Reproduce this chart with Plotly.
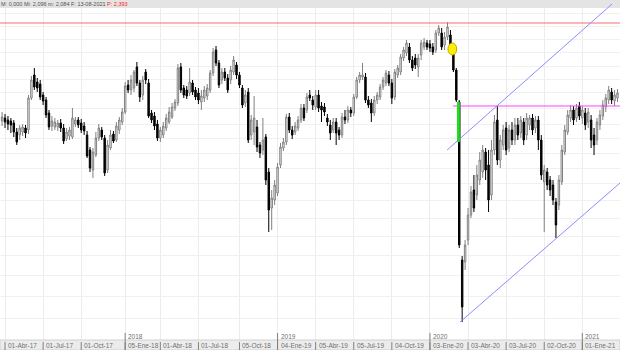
import pandas as pd
import plotly.graph_objects as go

# weekly candles (Friday dates)
dates = pd.date_range("2017-03-17", periods=211, freq="7D")

opens = [
2.79,2.82,2.80,2.79,2.77,2.68,2.65,2.68,2.72,2.70,
3.02,3.25,3.18,3.16,3.05,3.00,2.87,2.74,2.73,2.73,
2.77,2.72,2.61,2.64,2.63,2.76,2.80,2.77,2.74,2.65,
2.50,2.30,2.45,2.62,2.70,2.62,2.30,2.52,2.66,2.60,
2.70,2.78,2.88,3.15,3.10,3.12,3.33,3.17,3.05,3.28,
3.17,2.87,2.84,2.76,2.62,2.65,2.72,2.78,2.83,2.92,
2.97,3.33,3.12,3.10,3.07,3.17,3.10,3.07,2.98,3.02,
3.04,3.10,3.27,3.50,3.37,3.20,3.28,3.22,3.20,3.28,
3.35,3.25,3.12,2.97,3.08,2.65,2.68,2.73,2.55,2.50,
2.63,2.28,1.92,2.00,2.07,2.35,2.52,2.58,2.83,2.70,
2.68,2.72,2.80,2.92,2.90,3.05,3.00,2.93,3.05,2.94,
2.93,2.82,2.75,2.70,2.78,2.70,2.65,2.83,2.80,2.90,
2.87,3.03,3.20,3.23,3.23,3.00,2.97,2.87,3.00,3.03,
3.13,3.17,3.25,3.17,3.03,3.25,3.28,3.42,3.47,3.53,
3.40,3.42,3.33,3.45,3.53,3.57,3.56,3.53,3.50,3.67,
3.67,3.55,3.63,3.65,3.50,3.30,2.98,1.40,1.38,1.60,
1.85,2.10,2.05,2.20,2.28,2.48,2.35,2.05,2.50,2.80,
2.40,2.55,2.72,2.52,2.70,2.60,2.75,2.67,2.78,2.65,
2.75,2.82,2.72,2.80,2.60,2.18,2.28,2.20,2.15,1.98,
1.95,2.18,2.48,2.68,2.82,2.90,2.82,2.94,2.82,2.87,
2.78,2.80,2.65,2.60,2.75,2.84,2.93,3.00,3.08,2.99,
3.02]

highs = [
2.88,2.86,2.84,2.82,2.80,2.72,2.75,2.76,2.75,3.05,
3.24,3.32,3.22,3.20,3.08,3.03,2.90,2.84,2.82,2.80,
2.81,2.76,2.72,2.73,2.92,2.83,2.83,2.81,2.78,2.69,
2.53,2.52,2.68,2.76,2.73,2.65,2.60,2.70,2.69,2.78,
2.83,2.92,3.18,3.20,3.25,3.30,3.38,3.20,3.24,3.31,
3.21,2.90,2.88,2.80,2.73,2.78,2.86,2.93,2.97,3.01,
3.36,3.37,3.15,3.14,3.32,3.20,3.13,3.12,3.10,3.14,
3.16,3.30,3.52,3.54,3.40,3.32,3.32,3.26,3.34,3.44,
3.38,3.28,3.15,3.10,3.12,2.85,3.04,2.80,2.58,2.82,
2.66,2.32,2.10,2.20,2.37,2.57,2.62,2.86,2.87,2.74,
2.78,2.84,2.96,2.96,3.07,3.10,3.04,3.10,3.10,2.98,
2.97,2.86,2.80,2.82,2.82,2.73,2.87,2.90,2.94,2.93,
3.06,3.23,3.28,3.37,3.27,3.04,3.01,3.04,3.08,3.16,
3.23,3.30,3.29,3.21,3.31,3.35,3.46,3.53,3.60,3.57,
3.44,3.46,3.46,3.60,3.62,3.60,3.60,3.57,3.70,3.75,
3.72,3.68,3.78,3.70,3.54,3.32,3.00,1.44,1.60,1.92,
2.14,2.25,2.35,2.48,2.55,2.52,2.50,2.60,2.85,2.94,
2.65,2.75,2.78,2.75,2.78,2.82,2.82,2.84,2.82,2.87,
2.85,2.86,2.84,2.84,2.65,2.35,2.32,2.24,2.20,2.02,
2.25,2.55,2.75,2.90,2.95,2.94,2.96,2.98,2.94,2.92,
2.92,2.85,2.72,2.82,2.90,3.00,3.06,3.14,3.12,3.10,
3.11]

lows = [
2.74,2.72,2.70,2.67,2.63,2.55,2.60,2.64,2.62,2.66,
3.00,3.10,3.08,3.00,2.95,2.82,2.70,2.69,2.70,2.69,
2.68,2.56,2.59,2.60,2.61,2.73,2.72,2.67,2.65,2.42,
2.28,2.22,2.43,2.59,2.60,2.24,2.27,2.50,2.57,2.58,
2.66,2.75,2.86,3.07,3.05,3.08,3.14,2.98,3.00,3.16,
2.82,2.77,2.70,2.59,2.58,2.62,2.69,2.76,2.81,2.89,
2.94,3.07,3.02,3.01,3.04,3.05,3.00,2.96,2.90,2.98,
3.00,3.07,3.24,3.34,3.12,3.16,3.19,3.07,3.16,3.25,
3.21,3.12,2.92,2.93,2.57,2.60,2.55,2.48,2.42,2.45,
2.15,1.68,1.70,1.95,2.04,2.32,2.49,2.55,2.67,2.61,
2.65,2.69,2.77,2.79,2.87,2.99,2.90,2.90,2.88,2.78,
2.84,2.74,2.60,2.67,2.55,2.60,2.62,2.76,2.77,2.83,
2.84,3.01,3.17,3.20,2.97,2.92,2.78,2.84,2.96,3.00,
3.10,3.14,3.14,2.96,3.00,3.22,3.25,3.39,3.44,3.37,
3.29,3.31,3.23,3.40,3.50,3.50,3.48,3.45,3.47,3.64,
3.50,3.50,3.60,3.47,3.28,2.98,1.52,0.78,1.30,1.55,
1.82,1.88,2.00,2.15,2.22,2.20,1.88,2.00,2.45,2.35,
2.32,2.50,2.45,2.48,2.55,2.55,2.60,2.62,2.55,2.60,
2.70,2.65,2.67,2.50,2.20,1.68,2.10,2.04,1.95,1.62,
1.90,2.15,2.45,2.65,2.78,2.75,2.78,2.80,2.76,2.70,
2.72,2.52,2.45,2.55,2.70,2.80,2.88,2.96,2.96,2.94,
2.98]

closes = [
2.83,2.78,2.76,2.75,2.68,2.58,2.72,2.73,2.67,3.02,
3.20,3.13,3.12,3.03,2.99,2.85,2.73,2.79,2.78,2.77,
2.72,2.59,2.68,2.70,2.82,2.80,2.75,2.70,2.69,2.44,
2.32,2.48,2.62,2.72,2.63,2.27,2.55,2.65,2.59,2.74,
2.80,2.88,3.14,3.10,3.20,3.28,3.17,3.03,3.20,3.20,
2.84,2.80,2.74,2.62,2.70,2.74,2.82,2.88,2.93,2.98,
3.32,3.10,3.05,3.04,3.18,3.08,3.03,3.00,3.04,3.10,
3.12,3.27,3.48,3.37,3.15,3.28,3.22,3.10,3.30,3.40,
3.25,3.15,2.95,3.05,2.60,2.80,2.82,2.53,2.47,2.60,
2.20,1.90,2.02,2.15,2.33,2.53,2.58,2.83,2.70,2.65,
2.74,2.80,2.92,2.82,3.03,3.02,2.95,3.05,2.92,2.90,
2.88,2.78,2.67,2.78,2.67,2.65,2.83,2.80,2.90,2.87,
3.03,3.20,3.25,3.25,3.00,2.95,2.87,3.00,3.05,3.13,
3.20,3.27,3.17,3.02,3.28,3.32,3.43,3.50,3.57,3.40,
3.32,3.35,3.42,3.57,3.58,3.53,3.52,3.48,3.67,3.72,
3.53,3.63,3.73,3.50,3.30,3.00,1.55,0.93,1.55,1.85,
2.08,1.92,2.25,2.40,2.50,2.30,2.00,2.50,2.78,2.40,
2.60,2.70,2.50,2.70,2.60,2.75,2.65,2.80,2.60,2.82,
2.82,2.70,2.80,2.60,2.25,2.30,2.15,2.10,2.00,1.75,
2.20,2.50,2.70,2.85,2.90,2.80,2.92,2.84,2.90,2.75,
2.88,2.60,2.55,2.78,2.85,2.95,3.02,3.10,3.00,3.05,
3.07]

tick_dates = ["2017-03-24","2017-06-23","2017-09-22","2018-01-05","2018-03-30",
              "2018-06-29","2018-10-05","2019-01-04","2019-04-05","2019-07-05",
              "2019-10-04","2020-01-03","2020-04-03","2020-07-03","2020-10-02","2021-01-01"]
tick_labels = ["01-Abr-17","01-Jul-17","01-Oct-17","05-Ene-18","01-Abr-18",
               "01-Jul-18","05-Oct-18","04-Ene-19","05-Abr-19","05-Jul-19",
               "04-Oct-19","03-Ene-20","03-Abr-20","03-Jul-20","02-Oct-20","01-Ene-21"]
year_dates = ["2018-01-05","2019-01-04","2020-01-03","2021-01-01"]
year_labels = ["2018","2019","2020","2021"]

grid_prices = [3.87,3.74,3.61,3.48,3.34,3.21,3.08,2.92,2.76,2.62,2.47,2.32,2.17,
               2.00,1.82,1.64,1.45,1.25,1.04,0.82]

# drawing-tool objects (dates, prices)
resistance_price = 3.77
gap_price = 2.94
gap_start = "2020-02-27"
chan_up = (("2020-02-13", 2.50), ("2021-03-13", 3.96))
chan_dn = (("2020-03-15", 0.78), ("2021-04-01", 2.17))
circle_box = (("2020-02-15", 3.45), ("2020-03-07", 3.57))
green_box = (("2020-03-07 12:00", 2.58), ("2020-03-14 12:00", 2.98))

header_text = "M: 0,000 Mi: 2,096 m: 2,084 F: 13-08-2021"
header_price = "P: 2,393"

X0, X1 = "2017-03-12", "2021-04-01"
Y0, Y1 = 0.5, 4.0

fig = go.Figure()
fig.add_trace(go.Candlestick(
    x=dates, open=opens, high=highs, low=lows, close=closes,
    increasing=dict(line=dict(color="#808080", width=1), fillcolor="#ffffff"),
    decreasing=dict(line=dict(color="#000000", width=1), fillcolor="#000000"),
    whiskerwidth=0, hoverinfo="skip"))

shapes = []
# header strip and bottom strip
shapes.append(dict(type="rect", xref="paper", yref="y", x0=0, x1=1, y0=3.92, y1=Y1,
                   fillcolor="#e4e4e4", line=dict(width=0), layer="above"))
shapes.append(dict(type="rect", xref="paper", yref="y", x0=0, x1=1, y0=Y0, y1=0.60,
                   fillcolor="#ececec", line=dict(color="#d0d0d0", width=1), layer="above"))
# lines
shapes.append(dict(type="line", xref="paper", yref="y", x0=0, x1=1,
                   y0=resistance_price, y1=resistance_price,
                   line=dict(color="#ff6a6a", width=1), layer="above"))
shapes.append(dict(type="line", xref="x", yref="y", x0=gap_start, x1=X1,
                   y0=gap_price, y1=gap_price, line=dict(color="#ff40ff", width=1), layer="above"))
for (a, b) in (chan_up, chan_dn):
    shapes.append(dict(type="line", xref="x", yref="y", x0=a[0], y0=a[1], x1=b[0], y1=b[1],
                       line=dict(color="#8c8cff", width=1), layer="above"))
shapes.append(dict(type="rect", xref="x", yref="y", x0=green_box[0][0], x1=green_box[1][0],
                   y0=green_box[0][1], y1=green_box[1][1], fillcolor="#22dd22",
                   line=dict(width=0), layer="above"))
shapes.append(dict(type="circle", xref="x", yref="y", x0=circle_box[0][0], x1=circle_box[1][0],
                   y0=circle_box[0][1], y1=circle_box[1][1], fillcolor="#ffee00",
                   line=dict(color="#c8a800", width=1), layer="above"))
# ticks
for d in tick_dates:
    shapes.append(dict(type="line", xref="x", yref="y", x0=d, x1=d, y0=Y0, y1=0.58,
                       line=dict(color="#808080", width=1), layer="above"))
for d in year_dates:
    shapes.append(dict(type="line", xref="x", yref="y", x0=d, x1=d, y0=Y0, y1=0.67,
                       line=dict(color="#808080", width=1), layer="above"))

ann = []
for d, t in zip(tick_dates, tick_labels):
    ann.append(dict(x=d, y=0.545, xref="x", yref="y", text=t, showarrow=False,
                    xanchor="left", yanchor="middle", xshift=1,
                    font=dict(family="Liberation Sans", size=6.5, color="#707070")))
for d, t in zip(year_dates, year_labels):
    ann.append(dict(x=d, y=0.635, xref="x", yref="y", text=t, showarrow=False,
                    xanchor="left", yanchor="middle", xshift=1,
                    font=dict(family="Liberation Sans", size=6.5, color="#707070")))
ann.append(dict(x=-1/620, y=3.96, xref="paper", yref="y",
                text=header_text + " <span style='color:#ff2020'>" + header_price + "</span>",
                showarrow=False, xanchor="left", yanchor="middle",
                font=dict(family="Liberation Sans", size=5.5, color="#505050")))

fig.update_layout(
    width=620, height=350, margin=dict(l=0, r=0, t=0, b=0),
    paper_bgcolor="#ffffff", plot_bgcolor="#ffffff", showlegend=False,
    shapes=shapes, annotations=ann,
    xaxis=dict(type="date", range=[X0, X1], tickvals=tick_dates, showticklabels=False,
               showgrid=True, gridcolor="#ececec", gridwidth=1, zeroline=False,
               rangeslider=dict(visible=False), ticks="", showline=False, fixedrange=True),
    yaxis=dict(range=[Y0, Y1], tickvals=grid_prices, showticklabels=False,
               showgrid=True, gridcolor="#f0f0f0", gridwidth=1, zeroline=False,
               ticks="", showline=False, fixedrange=True),
)
fig.write_html("out.html")
